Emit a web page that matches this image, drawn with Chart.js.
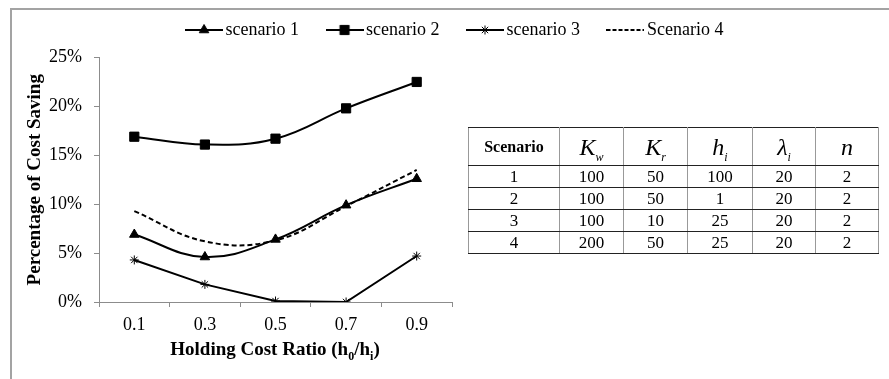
<!DOCTYPE html>
<html>
<head>
<meta charset="utf-8">
<script src="https://cdn.jsdelivr.net/npm/chart.js@4.4.1/dist/chart.umd.min.js"></script>
<style>
  body { margin: 0; background: #fff; }
  #wrap { position: relative; width: 889px; height: 379px; overflow: hidden; font-family: "Liberation Serif", serif; color: #000; }
  #frame { position: absolute; left: 10px; top: 8px; width: 900px; height: 400px; border-top: 2px solid #a3a3a3; border-left: 2px solid #a3a3a3; }
  #chart { position: absolute; left: 0; top: 0; }
  #xtitle { position: absolute; left: 100px; width: 350px; top: 338px; text-align: center; font-weight: bold; font-size: 19px; }
  #xtitle sub { font-size: 12px; }
  #params { position: absolute; left: 468px; top: 127px; border-collapse: collapse; border: 1.5px solid #000; font-size: 17px; }
  #params td { border-left: 1px solid #999; border-right: 1px solid #999; border-top: 1px solid #222; border-bottom: 1px solid #222; text-align: center; padding: 0; height: 21px; line-height: 18px; }
  #params tr.head td { height: 37px; }
  #params .lbl { font-weight: bold; font-size: 16px; }
  #params .sym { font-style: italic; font-size: 24px; line-height: 24px; }
  #params .sym sub { font-size: 12px; line-height: 0; }
</style>
</head>
<body>
<div id="wrap">
  <div id="frame"></div>
  <canvas id="chart" width="889" height="379"></canvas>
  <div id="xtitle">Holding Cost Ratio (h<sub>0</sub>/h<sub>i</sub>)</div>
  <table id="params">
    <tr class="head">
      <td class="lbl" style="width:90px">Scenario</td>
      <td class="sym" style="width:63px">K<sub>w</sub></td>
      <td class="sym" style="width:63px">K<sub>r</sub></td>
      <td class="sym" style="width:64px">h<sub>i</sub></td>
      <td class="sym" style="width:62px">&lambda;<sub>i</sub></td>
      <td class="sym" style="width:62px">n</td>
    </tr>
  </table>
</div>
<script>
/* ------------------
  data
-------------------*/
var categories = ['0.1', '0.3', '0.5', '0.7', '0.9'];
var scenario1 = [6.9, 4.6, 6.4, 9.9, 12.6];
var scenario2 = [16.9, 16.1, 16.7, 19.8, 22.5];
var scenario3 = [4.3, 1.8, 0.1, 0, 4.7];
var scenario4 = [9.3, 6.2, 6.3, 9.8, 13.5];
var yTicks = [0, 5, 10, 15, 20, 25];

// parameter table next to the chart
var colScenario = ['1', '2', '3', '4'];
var colKw = [100, 100, 100, 200];
var colKr = [50, 50, 10, 50];
var colHi = [100, 1, 25, 25];
var colLambda = [20, 20, 20, 20];
var colN = [2, 2, 2, 2];

var FONT = 'Liberation Serif';

/* ------------------
  table rows
-------------------*/
var table = document.getElementById('params');
for (var r = 0; r < colScenario.length; r++) {
  var row = table.insertRow(-1);
  [colScenario[r], colKw[r], colKr[r], colHi[r], colLambda[r], colN[r]].forEach(function (v) {
    row.insertCell(-1).textContent = v;
  });
}

/* ------------------
  legend icons: line with the marker in the middle
-------------------*/
function legendIcon(style, radius, dash) {
  var c = document.createElement('canvas');
  c.width = 38;
  c.height = 14;
  var ctx = c.getContext('2d');
  ctx.strokeStyle = '#000';
  ctx.fillStyle = '#000';
  ctx.lineWidth = 2;
  if (dash) ctx.setLineDash(dash);
  ctx.beginPath();
  ctx.moveTo(0, 7);
  ctx.lineTo(38, 7);
  ctx.stroke();
  ctx.setLineDash([]);
  if (style) {
    ctx.lineWidth = 1;
    Chart.helpers.drawPoint(ctx, { pointStyle: style, radius: radius, borderWidth: 1, rotation: 0 }, 19, 7);
  }
  return c;
}

// a bit more room between the legend and the plot
var legendGap = {
  id: 'legendGap',
  beforeLayout: function (chart) {
    var lg = chart.legend;
    if (lg && !lg._gapPatched) {
      var fit = lg.fit;
      lg.fit = function () { fit.call(this); this.height += 8.5; };
      lg._gapPatched = true;
    }
  }
};

var datasets = [
  {
    label: 'scenario 1',
    data: scenario1,
    borderColor: '#000', backgroundColor: '#000', borderWidth: 2,
    pointStyle: 'triangle', pointRadius: 5.5, pointBorderWidth: 1,
    tension: 0.4
  },
  {
    label: 'scenario 2',
    data: scenario2,
    borderColor: '#000', backgroundColor: '#000', borderWidth: 2,
    pointStyle: 'rect', pointRadius: 6.5, pointBorderWidth: 1,
    tension: 0.4
  },
  {
    label: 'scenario 3',
    data: scenario3,
    borderColor: '#000', backgroundColor: '#000', borderWidth: 2,
    pointStyle: 'star', pointRadius: 4.5, pointBorderWidth: 1,
    tension: 0
  },
  {
    label: 'Scenario 4',
    data: scenario4,
    borderColor: '#000', backgroundColor: '#000', borderWidth: 2,
    borderDash: [5, 3],
    pointRadius: 0,
    tension: 0.4
  }
];

var icons = [
  legendIcon('triangle', 5.5),
  legendIcon('rect', 6.5),
  legendIcon('star', 4.5),
  legendIcon(null, 0, [4, 2])
];

var legendPad = 33;

new Chart(document.getElementById('chart'), {
  type: 'line',
  data: { labels: categories, datasets: datasets },
  plugins: [legendGap],
  options: {
    responsive: false,
    animation: false,
    layout: { padding: { left: 26, top: 30 - 9 - legendPad, right: 0, bottom: 0 } },
    plugins: {
      tooltip: { enabled: false },
      legend: {
        position: 'top',
        labels: {
          usePointStyle: true,
          pointStyleWidth: 25,
          padding: legendPad,
          color: '#000',
          font: { family: FONT, size: 18 },
          generateLabels: function (chart) {
            return chart.data.datasets.map(function (ds, i) {
              return {
                text: ds.label, pointStyle: icons[i], datasetIndex: i,
                fontColor: '#000', fillStyle: '#000', strokeStyle: '#000', lineWidth: 0, hidden: false
              };
            });
          }
        }
      }
    },
    scales: {
      x: {
        offset: true,
        grid: { offset: true, drawOnChartArea: false, tickLength: 5, color: '#8c8c8c' },
        border: { color: '#8c8c8c', width: 1 },
        ticks: { padding: 7, color: '#000', font: { family: FONT, size: 18 } },
        afterFit: function (s) { s.height = 77; }
      },
      y: {
        min: 0,
        max: 25,
        afterBuildTicks: function (s) { s.ticks = yTicks.map(function (v) { return { value: v }; }); },
        ticks: {
          padding: 12, color: '#000', font: { family: FONT, size: 18 },
          callback: function (v) { return v + '%'; }
        },
        grid: { drawOnChartArea: false, tickLength: 5, color: '#8c8c8c' },
        border: { color: '#8c8c8c', width: 1 },
        title: {
          display: true, text: 'Percentage of Cost Saving', color: '#000',
          font: { family: FONT, size: 19, weight: 'bold', lineHeight: 1 },
          padding: { top: 0, bottom: 0 }
        },
        afterFit: function (s) { s.width = 73; }
      },
      // empty axis keeping the right side free for the table
      pad: {
        type: 'linear',
        position: 'right',
        grid: { display: false },
        ticks: { display: false },
        border: { display: false },
        afterFit: function (s) { s.width = 437; }
      }
    }
  }
});
</script>
</body>
</html>
